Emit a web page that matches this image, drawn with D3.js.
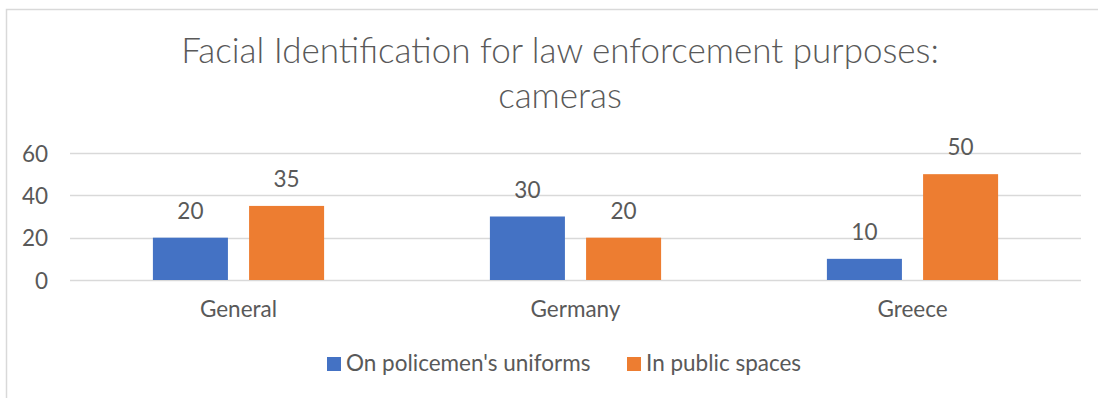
<!DOCTYPE html>
<html>
<head>
<meta charset="utf-8">
<script src="https://cdn.jsdelivr.net/npm/d3@7"></script>
<style>
  html, body { margin: 0; padding: 0; background: #fff; }
  svg { display: block; }
  text { font-family: Lato, "Open Sans", sans-serif; fill: #595959; }
</style>
</head>
<body>
<svg id="chart" width="1098" height="398"></svg>
<script>
// Chart data
const categories = ["General", "Germany", "Greece"];
const seriesNames = ["On policemen's uniforms", "In public spaces"];
const uniforms = [20, 30, 10];
const publicSpaces = [35, 20, 50];
const yTicks = [0, 20, 40, 60];
const titleLines = ["Facial Identification for law enforcement purposes:", "cameras"];
const seriesColors = ["#4472C4", "#ED7D31"];

const seriesValues = [uniforms, publicSpaces];
const rows = categories.map((c, i) => ({
  category: c,
  values: seriesNames.map((s, j) => ({ series: s, index: j, value: seriesValues[j][i] }))
}));

const svg = d3.select("#chart");
const W = 1098, H = 398;
const labelSize = "22.5px";

// Outer chart frame
svg.append("rect")
  .attr("x", 6.5).attr("y", 9.5)
  .attr("width", W + 10).attr("height", H + 10)
  .attr("fill", "#fff")
  .attr("stroke", "#d9d9d9").attr("stroke-width", 1.5);

// Title
const title = svg.append("text")
  .attr("text-anchor", "middle")
  .style("font-size", "35px")
  .style("font-weight", 300);
titleLines.forEach((t, i) => {
  title.append("tspan").attr("x", 560).attr("y", 63 + i * 45).text(t);
});

const plot = { left: 70, right: 1081, top: 153, bottom: 280 };

const x0 = d3.scaleBand()
  .domain(categories)
  .range([plot.left, plot.right])
  .paddingInner(0).paddingOuter(0);

// Bars in each category occupy the middle part of the band
const groupWidth = x0.bandwidth() * 0.508;
const x1 = d3.scaleBand()
  .domain(seriesNames)
  .range([0, groupWidth])
  .paddingInner(0.22).paddingOuter(0);

const y = d3.scaleLinear()
  .domain([0, 60])
  .range([plot.bottom, plot.top]);

// Gridlines
svg.append("g")
  .selectAll("line")
  .data(yTicks)
  .join("line")
  .attr("x1", plot.left).attr("x2", plot.right)
  .attr("y1", d => Math.round(y(d)) + 0.5)
  .attr("y2", d => Math.round(y(d)) + 0.5)
  .attr("stroke", "#d9d9d9")
  .attr("stroke-width", 1.5);

// Y axis labels
const yAxis = d3.axisLeft(y).tickValues(yTicks).tickSize(0).tickPadding(0);
const yG = svg.append("g")
  .attr("transform", `translate(48,0)`)
  .call(yAxis);
yG.select(".domain").remove();
yG.selectAll("text")
  .style("font-size", labelSize)
  .style("font-family", "Lato, sans-serif")
  .attr("fill", "#595959")
  .attr("dy", "0.36em");

// Bars
const groups = svg.append("g")
  .selectAll("g")
  .data(rows)
  .join("g")
  .attr("transform", d => `translate(${x0(d.category) + (x0.bandwidth() - groupWidth) / 2},0)`);

groups.selectAll("rect")
  .data(d => d.values)
  .join("rect")
  .attr("x", d => x1(d.series))
  .attr("y", d => y(d.value))
  .attr("width", x1.bandwidth())
  .attr("height", d => y(0) - y(d.value))
  .attr("fill", d => seriesColors[d.index]);

// Data labels
groups.selectAll("text.value")
  .data(d => d.values)
  .join("text")
  .attr("class", "value")
  .attr("text-anchor", "middle")
  .attr("x", d => x1(d.series) + x1.bandwidth() / 2)
  .attr("y", d => y(d.value) - 19)
  .style("font-size", labelSize)
  .text(d => d.value);

// Category axis labels
const xAxis = d3.axisBottom(x0).tickSize(0).tickPadding(0);
const xG = svg.append("g")
  .attr("transform", `translate(0,${plot.bottom})`)
  .call(xAxis);
xG.select(".domain").remove();
xG.selectAll("text")
  .style("font-size", labelSize)
  .style("font-family", "Lato, sans-serif")
  .attr("fill", "#595959")
  .attr("y", 37)
  .attr("dy", 0);

// Legend
const legendX = [327, 627];
const legend = svg.append("g")
  .selectAll("g")
  .data(seriesNames)
  .join("g")
  .attr("transform", (d, i) => `translate(${legendX[i]},357)`);
legend.append("rect")
  .attr("width", 14).attr("height", 14)
  .attr("fill", (d, i) => seriesColors[i]);
legend.append("text")
  .attr("x", 19).attr("y", 14)
  .style("font-size", labelSize)
  .text(d => d);
</script>
</body>
</html>
